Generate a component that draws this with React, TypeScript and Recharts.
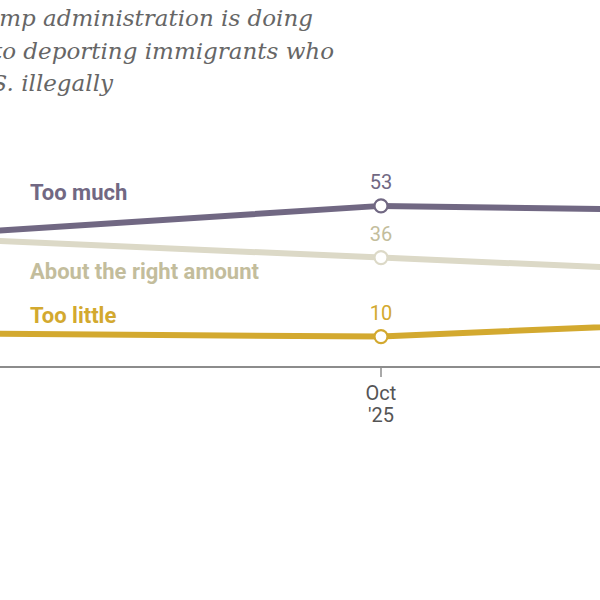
import React from "react";
import { LineChart, Line, XAxis, YAxis, LabelList } from "recharts";

// Survey waves (month index from June 2025)
const waveIndex = [0, 4, 8];
const waveMonths = ["June", "Oct", "Feb"];
const waveYears = ["'25", "'25", "'26"];

const tooMuch = [44, 53, 51];
const rightAmount = [42, 36, 30];
const tooLittle = [11, 10, 16];

const titleLines = [
  "% who say the Trump administration is doing",
  "___ when it comes to deporting immigrants who",
  "are in the U.S. illegally",
];

const seriesNames = ["Too much", "About the right amount", "Too little"];

const data = waveIndex.map((t, i) => ({
  t,
  tooMuch: tooMuch[i],
  rightAmount: rightAmount[i],
  tooLittle: tooLittle[i],
}));

const C_MUCH = "#716883";
const C_RIGHT_LINE = "#dcd9c7";
const C_RIGHT_TEXT = "#c3bd9c";
const C_LITTLE = "#d3a92f";

const SANS = "Roboto, 'Noto Sans', sans-serif";

const Tick = (props: any) => {
  const { x, y, payload } = props;
  const i = waveIndex.indexOf(payload.value);
  return (
    <text x={x} y={y} textAnchor="middle" fill="#555" fontSize={20} fontFamily={SANS}>
      <tspan x={x} dy={21}>{waveMonths[i]}</tspan>
      <tspan x={x} dy={22}>{waveYears[i]}</tspan>
    </text>
  );
};

const dotStyle = (c: string) => ({ r: 6.5, fill: "#fff", stroke: c, strokeWidth: 2.2 });

export default function App() {
  return (
    <div
      style={{
        position: "fixed",
        left: 0,
        top: 0,
        width: 600,
        height: 600,
        overflow: "hidden",
        background: "#fff",
      }}
    >
      <div style={{ position: "absolute", left: -100, top: 0 }}>
        <LineChart
          width={1000}
          height={437}
          data={data}
          margin={{ top: 63, right: 97, bottom: 10, left: 59 }}
        >
          <YAxis hide type="number" domain={[0, 100]} />
          <XAxis
            dataKey="t"
            type="number"
            domain={[0, 8]}
            ticks={waveIndex}
            height={60}
            axisLine={{ stroke: "#8c8c8c", strokeWidth: 2 }}
            tickLine={{ stroke: "#8c8c8c", strokeWidth: 1.5 }}
            tickSize={10}
            tickMargin={2}
            tick={<Tick />}
            interval={0}
          />
          <Line
            dataKey="rightAmount"
            stroke={C_RIGHT_LINE}
            strokeWidth={6}
            dot={dotStyle(C_RIGHT_LINE)}
            activeDot={false}
            isAnimationActive={false}
          >
            <LabelList dataKey="rightAmount" position="top" offset={17} fill={C_RIGHT_TEXT} fontSize={20} fontFamily={SANS} />
          </Line>
          <Line
            dataKey="tooLittle"
            stroke={C_LITTLE}
            strokeWidth={6}
            dot={dotStyle(C_LITTLE)}
            activeDot={false}
            isAnimationActive={false}
          >
            <LabelList dataKey="tooLittle" position="top" offset={17} fill={C_LITTLE} fontSize={20} fontFamily={SANS} />
          </Line>
          <Line
            dataKey="tooMuch"
            stroke={C_MUCH}
            strokeWidth={6}
            dot={dotStyle(C_MUCH)}
            activeDot={false}
            isAnimationActive={false}
          >
            <LabelList dataKey="tooMuch" position="top" offset={17} fill={C_MUCH} fontSize={20} fontFamily={SANS} />
          </Line>
        </LineChart>
      </div>
      <svg
        width={600}
        height={600}
        style={{ position: "absolute", left: 0, top: 0, pointerEvents: "none" }}
      >
        <g fontFamily="'DejaVu Serif', serif" fontStyle="italic" fontSize={23} fill="#666">
          <text x={313} y={26} textAnchor="end">{titleLines[0]}</text>
          <text x={334} y={58.5} textAnchor="end">{titleLines[1]}</text>
          <text x={113} y={91} textAnchor="end">{titleLines[2]}</text>
        </g>
        <g fontFamily={SANS} fontWeight={700} fontSize={22}>
          <text x={30} y={200} fill={C_MUCH}>{seriesNames[0]}</text>
          <text x={30} y={279} fill={C_RIGHT_TEXT}>{seriesNames[1]}</text>
          <text x={30} y={323} fill={C_LITTLE}>{seriesNames[2]}</text>
        </g>
      </svg>
    </div>
  );
}
